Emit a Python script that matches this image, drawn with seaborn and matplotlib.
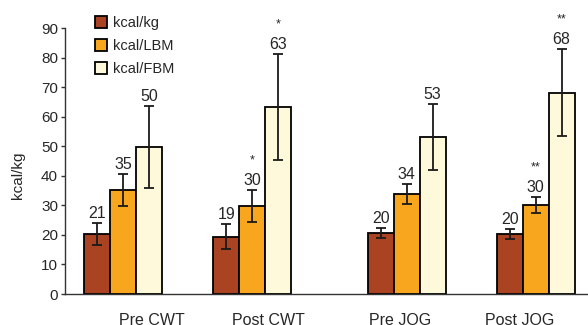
import matplotlib
matplotlib.use("Agg")
import matplotlib.pyplot as plt
import seaborn as sns
import pandas as pd

groups = ["Pre CWT", "Post CWT", "Pre JOG", "Post JOG"]
group_pos = [0.0, 1.0, 2.2, 3.2]
label_pos = [0.225, 1.124, 2.147, 3.078]
series = ["kcal/kg", "kcal/LBM", "kcal/FBM"]

kg_mean = [20.3, 19.4, 20.5, 20.2]
kg_err = [3.6, 4.2, 1.7, 1.7]
lbm_mean = [35.1, 29.8, 33.8, 30.2]
lbm_err = [5.4, 5.4, 3.3, 2.7]
fbm_mean = [49.8, 63.3, 53.0, 68.1]
fbm_err = [13.9, 17.8, 11.2, 14.8]

kg_labels = ["21", "19", "20", "20"]
lbm_labels = ["35", "30", "34", "30"]
fbm_labels = ["50", "63", "53", "68"]
kg_sig = ["", "", "", ""]
lbm_sig = ["", "*", "", "**"]
fbm_sig = ["", "*", "", "**"]

colors = ["#A94322", "#F9A61F", "#FEF9DB"]


def main():
    sns.set_style("white")
    plt.rcParams["font.family"] = ["Liberation Sans", "DejaVu Sans"]

    means = [kg_mean, lbm_mean, fbm_mean]
    errs = [kg_err, lbm_err, fbm_err]
    labels = [kg_labels, lbm_labels, fbm_labels]
    sigs = [kg_sig, lbm_sig, fbm_sig]

    rows = []
    for s, m in zip(series, means):
        for p, v in zip(group_pos, m):
            rows.append({"pos": p, "series": s, "value": v})
    df = pd.DataFrame(rows)

    fig = plt.figure(figsize=(5.88, 3.25), dpi=100)
    ax = fig.add_axes([65 / 588, 1 - 294 / 325, 1 - 65 / 588, 266 / 325])
    sns.barplot(data=df, x="pos", y="value", hue="series", hue_order=series,
                palette=colors, saturation=1, native_scale=True, width=0.6,
                gap=0, edgecolor="black", linewidth=1.3, errorbar=None, ax=ax)

    bw = 0.2
    for i in range(3):
        xs = [p + (i - 1) * bw for p in group_pos]
        ax.errorbar(xs, means[i], yerr=errs[i], fmt="none", ecolor="#1a1a1a",
                    elinewidth=1.3, capsize=3.8, capthick=1.3)
        for x, m, e, lab, sg in zip(xs, means[i], errs[i], labels[i], sigs[i]):
            ax.annotate(lab, (x, m + e), xytext=(0, 1.5), textcoords="offset points",
                        ha="center", va="bottom", fontsize=11.5)
            if sg:
                ax.annotate(sg, (x, m + e), xytext=(0, 17), textcoords="offset points",
                            ha="center", va="bottom", fontsize=9)

    ax.set_xlim((65 - 123) / 129, (588 - 123) / 129)
    ax.set_ylim(0, 90)
    ax.set_yticks(range(0, 91, 10))
    ax.set_xticks(label_pos)
    ax.set_xticklabels(groups, fontsize=11.5)
    ax.tick_params(axis="x", length=0, pad=14)
    ax.tick_params(axis="y", length=3, width=1, color="#333333", pad=2,
                   labelsize=11, left=True)
    ax.set_xlabel("")
    ax.set_ylabel("kcal/kg", fontsize=11)
    ax.yaxis.set_label_coords(-0.076, 0.445)
    for side in ["top", "right"]:
        ax.spines[side].set_visible(False)
    for side in ["left", "bottom"]:
        ax.spines[side].set_color("#333333")
        ax.spines[side].set_linewidth(1)

    handles, texts = ax.get_legend_handles_labels()
    ax.legend(handles, texts, loc="upper left",
              bbox_to_anchor=(95 / 588, 1 - 16 / 325), bbox_transform=fig.transFigure,
              frameon=False, fontsize=10.5, borderpad=0, borderaxespad=0,
              handlelength=0.85, handleheight=0.85, handletextpad=0.35,
              labelspacing=0.62)

    fig.savefig("out.png", dpi=100)
    plt.close(fig)


if __name__ == "__main__":
    main()
